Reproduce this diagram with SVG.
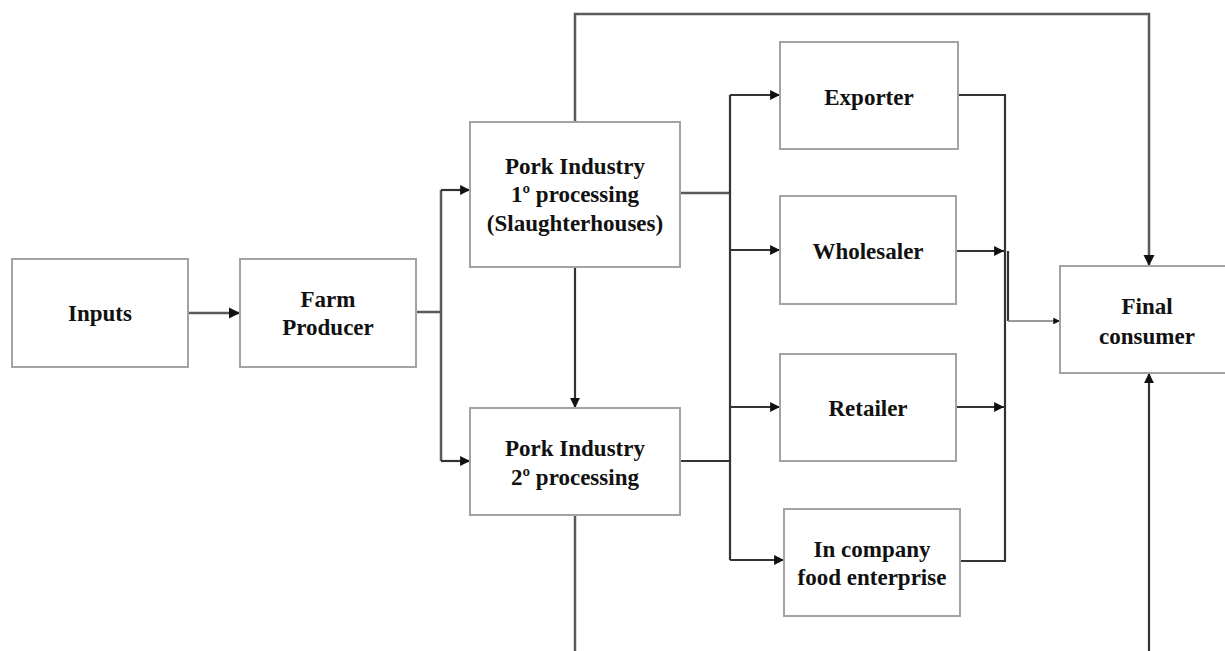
<svg xmlns="http://www.w3.org/2000/svg" width="1225" height="651" viewBox="0 0 1225 651">
<style>
.box{fill:#fff;stroke:#a3a3a3;stroke-width:2}
.t{font-family:"Liberation Serif","Times New Roman",serif;font-weight:bold;font-size:23px;fill:#111;text-anchor:middle}
.c{fill:none;stroke:#333;stroke-width:2.2}
.g{fill:none;stroke:#5a5a5a;stroke-width:2.5}
</style>
<defs>
<marker id="ah" viewBox="0 0 10 10" refX="10" refY="5" markerWidth="4.5" markerHeight="4.5" orient="auto" markerUnits="strokeWidth">
<path d="M0,0 L10,5 L0,10 z" fill="#111"/>
</marker>
</defs>
<rect width="1225" height="651" fill="#fff"/>
<g id="connectors">
<path class="g" d="M188,313 H240" marker-end="url(#ah)"/>
<path class="g" d="M416,312 H441"/>
<path class="g" d="M441,190 V461"/>
<path class="c" d="M441,190 H470" marker-end="url(#ah)"/>
<path class="c" d="M441,461 H470" marker-end="url(#ah)"/>
<path class="g" d="M575,122 V14 H1149 V266" marker-end="url(#ah)"/>
<path class="c" d="M575,267 V408" marker-end="url(#ah)"/>
<path class="g" d="M680,193 H730"/>
<path class="c" d="M680,461 H730"/>
<path class="c" d="M730,95 V560"/>
<path class="c" d="M730,95 H780" marker-end="url(#ah)"/>
<path class="c" d="M730,250 H780" marker-end="url(#ah)"/>
<path class="c" d="M730,407 H780" marker-end="url(#ah)"/>
<path class="c" d="M730,560 H784" marker-end="url(#ah)"/>
<path class="c" d="M958,95 H1005 V561 H960"/>
<path class="c" d="M956,251 H1004" marker-end="url(#ah)"/>
<path class="c" d="M956,407 H1004" marker-end="url(#ah)"/>
<path class="c" d="M1008,251 V321"/>
<path fill="none" stroke="#777" stroke-width="1.5" d="M1008,321 H1060" marker-end="url(#ah)"/>
<path class="g" d="M575,515 V651"/>
<path class="c" d="M1149,651 V373" marker-end="url(#ah)"/>
</g>
<g id="inputs"><rect class="box" x="12" y="259" width="176" height="108"/><text class="t" x="100" y="321">Inputs</text></g>
<g id="farm-producer"><rect class="box" x="240" y="259" width="176" height="108"/><text class="t" x="328" y="307">Farm</text><text class="t" x="328" y="335">Producer</text></g>
<g id="pork-1"><rect class="box" x="470" y="122" width="210" height="145"/><text class="t" x="575" y="174">Pork Industry</text><text class="t" x="575" y="202">1º processing</text><text class="t" x="575" y="231">(Slaughterhouses)</text></g>
<g id="pork-2"><rect class="box" x="470" y="408" width="210" height="107"/><text class="t" x="575" y="456">Pork Industry</text><text class="t" x="575" y="485">2º processing</text></g>
<g id="exporter"><rect class="box" x="780" y="42" width="178" height="107"/><text class="t" x="869" y="105">Exporter</text></g>
<g id="wholesaler"><rect class="box" x="780" y="196" width="176" height="108"/><text class="t" x="868" y="259">Wholesaler</text></g>
<g id="retailer"><rect class="box" x="780" y="354" width="176" height="107"/><text class="t" x="868" y="416">Retailer</text></g>
<g id="in-company"><rect class="box" x="784" y="509" width="176" height="107"/><text class="t" x="872" y="557">In company</text><text class="t" x="872" y="585">food enterprise</text></g>
<g id="final-consumer"><rect class="box" x="1060" y="266" width="174" height="107"/><text class="t" x="1147" y="314">Final</text><text class="t" x="1147" y="344">consumer</text></g>
</svg>
